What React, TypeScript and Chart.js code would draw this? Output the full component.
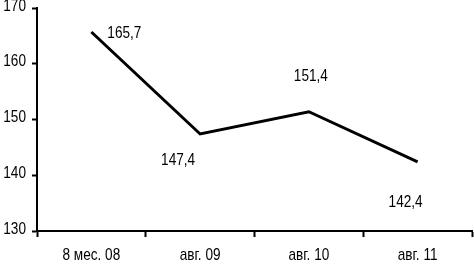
import React, { useEffect, useRef } from "react";
import { Chart, registerables } from "chart.js";

Chart.register(...registerables);

const categories = ["8 мес. 08", "авг. 09", "авг. 10", "авг. 11"];
const values = [165.7, 147.4, 151.4, 142.4];
const valueLabels = ["165,7", "147,4", "151,4", "142,4"];
const yTicks = [130, 140, 150, 160, 170];

const FONT = "'Liberation Sans', Arial, sans-serif";
const SQUEEZE = 0.8;

function drawNarrow(ctx: CanvasRenderingContext2D, text: string, x: number, y: number) {
  ctx.save();
  ctx.translate(x, y);
  ctx.scale(SQUEEZE, 1);
  ctx.fillText(text, 0, 0);
  ctx.restore();
}

const labelPlugin = {
  id: "valueLabels",
  afterDraw(chart: any) {
    const ctx = chart.ctx;
    const meta = chart.getDatasetMeta(0);
    const offsets = [
      [33, 1],
      [-22, 26],
      [2, -35],
      [-12, 40],
    ];
    ctx.save();
    ctx.fillStyle = "#000";
    ctx.font = `17px ${FONT}`;
    ctx.textBaseline = "middle";
    // value labels
    ctx.textAlign = "center";
    meta.data.forEach((pt: any, i: number) => {
      const [dx, dy] = offsets[i];
      drawNarrow(ctx, valueLabels[i], pt.x + dx, pt.y + dy);
    });
    // x tick labels
    const xs = chart.scales.x;
    categories.forEach((c, i) => {
      drawNarrow(ctx, c, xs.getPixelForValue(i), xs.top + 24);
    });
    // y tick labels
    const ys = chart.scales.y;
    ctx.textAlign = "right";
    yTicks.forEach((v) => {
      const py = ys.getPixelForValue(v);
      drawNarrow(ctx, String(v), ys.right - 11, Math.max(py - 2, 6));
    });
    ctx.restore();
  },
};

export default function App() {
  const ref = useRef<HTMLCanvasElement>(null);
  useEffect(() => {
    if (!ref.current) return;
    const chart = new Chart(ref.current, {
      type: "line",
      data: {
        labels: categories,
        datasets: [
          {
            data: values,
            borderColor: "#000",
            borderWidth: 3,
            pointRadius: 0,
            tension: 0,
            fill: false,
          },
        ],
      },
      plugins: [labelPlugin],
      options: {
        animation: false,
        responsive: false,
        maintainAspectRatio: false,
        layout: { padding: { top: 8, right: 2, left: 0, bottom: 0 } },
        plugins: {
          legend: { display: false },
          tooltip: { enabled: false },
        },
        scales: {
          x: {
            type: "category",
            offset: true,
            border: { display: true, color: "#000", width: 2 },
            grid: {
              display: true,
              offset: true,
              drawOnChartArea: false,
              drawTicks: true,
              tickLength: 6,
              color: "#000",
              tickWidth: 2,
            },
            ticks: { display: false },
            afterFit: (axis: any) => {
              axis.height = 35;
            },
          },
          y: {
            min: 130,
            max: 170,
            afterBuildTicks: (axis: any) => {
              axis.ticks = yTicks.map((v) => ({ value: v }));
            },
            border: { display: true, color: "#000", width: 2 },
            grid: {
              display: true,
              drawOnChartArea: false,
              drawTicks: true,
              tickLength: 5,
              color: "#000",
              tickWidth: 2,
            },
            ticks: { display: false },
            afterFit: (axis: any) => {
              axis.width = 37;
            },
          },
        },
      },
    });
    return () => chart.destroy();
  }, []);
  return (
    <div style={{ position: "fixed", left: 0, top: 0, width: 474, height: 266, background: "#fff" }}>
      <canvas ref={ref} width={474} height={266} style={{ display: "block" }} />
    </div>
  );
}
